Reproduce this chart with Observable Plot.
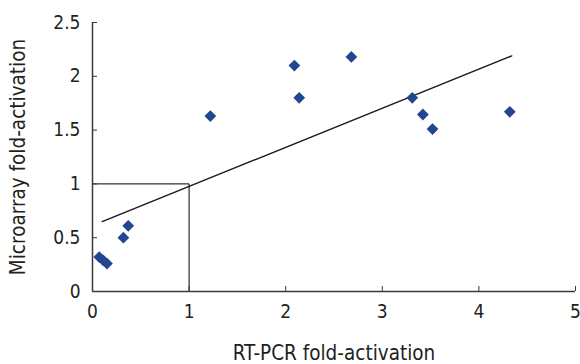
<!DOCTYPE html>
<html>
<head>
<meta charset="utf-8">
<script src="https://cdn.jsdelivr.net/npm/d3@7"></script>
<script src="https://cdn.jsdelivr.net/npm/@observablehq/plot@0.6"></script>
<style>
  html, body { margin: 0; padding: 0; background: #fff; }
  #chart svg { display: block; }
</style>
</head>
<body>
<div id="chart"></div>
<script>
// RT-PCR fold-activation (x) vs Microarray fold-activation (y)
const rtpcr = [0.07, 0.11, 0.15, 0.32, 0.37, 1.22, 2.09, 2.14, 2.68, 3.31, 3.42, 3.52, 4.32];
const microarray = [0.32, 0.29, 0.26, 0.50, 0.61, 1.63, 2.10, 1.80, 2.18, 1.80, 1.645, 1.51, 1.67];

// trend line end points
const trendX = [0.10, 4.34];
const trendY = [0.65, 2.19];

// reference box (x = 1, y = 1)
const boxX = [0, 1, 1];
const boxY = [1, 1, 0];

const xTicks = [0, 1, 2, 3, 4, 5];
const yTicks = [0, 0.5, 1, 1.5, 2, 2.5];

const points = rtpcr.map((x, i) => ({x, y: microarray[i]}));
const trend = trendX.map((x, i) => ({x, y: trendY[i]}));
const box = boxX.map((x, i) => ({x, y: boxY[i]}));

const font = "'Liberation Sans Narrow', 'DejaVu Sans Condensed', 'Roboto', sans-serif";
const ink = "#231f20";

const chart = Plot.plot({
  width: 580,
  height: 364,
  marginLeft: 92,
  marginRight: 5,
  marginTop: 22,
  marginBottom: 73,
  style: {fontFamily: font, fontSize: "19px", color: ink, background: "#fff"},
  x: {domain: [0, 5]},
  y: {domain: [0, 2.5]},
  marks: [
    Plot.line(box, {x: "x", y: "y", stroke: "#000", strokeWidth: 1}),
    Plot.line(trend, {x: "x", y: "y", stroke: "#1a1a1a", strokeWidth: 1.4}),
    Plot.dot(points, {x: "x", y: "y", symbol: "diamond2", r: 5.3, fill: "#22468f", stroke: "none"}),
    Plot.ruleX([0], {stroke: "#3a3a3a", strokeWidth: 1.5}),
    Plot.ruleY([0], {stroke: "#3a3a3a", strokeWidth: 1.5}),
    Plot.axisX({ticks: xTicks, tickSize: -5, tickPadding: 18, tickFormat: d => String(d), stroke: "#3a3a3a",
      fontSize: 19, label: null}),
    Plot.axisX({ticks: [], fontSize: 20.5, label: "RT-PCR fold-activation", labelAnchor: "center", labelOffset: 68, labelArrow: "none"}),
    Plot.axisY({ticks: yTicks, tickSize: -5, tickPadding: 17, tickFormat: d => String(d), stroke: "#3a3a3a",
      fontSize: 19, label: null}),
    Plot.axisY({ticks: [], fontSize: 20.5, label: "Microarray fold-activation", labelAnchor: "center", labelOffset: 82, labelArrow: "none"})
  ]
});
document.getElementById("chart").appendChild(chart);
</script>
</body>
</html>
